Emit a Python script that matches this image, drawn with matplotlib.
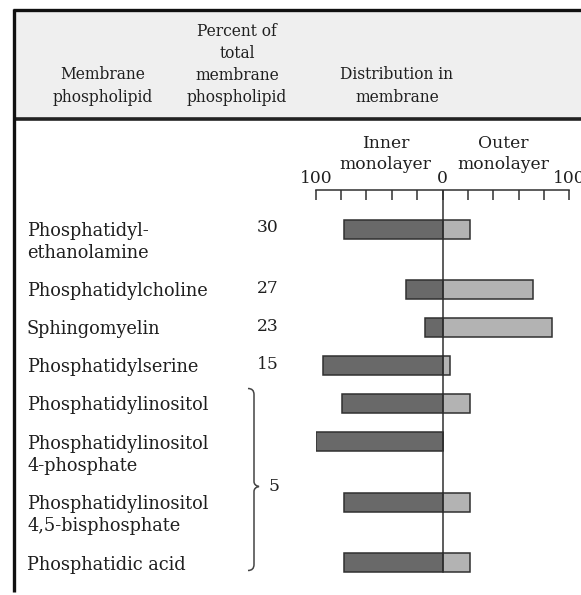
import numpy as np
import matplotlib
matplotlib.use("Agg")
import matplotlib.pyplot as plt
from matplotlib.path import Path
from matplotlib.patches import PathPatch, Rectangle

plt.rcParams["font.family"] = ["DejaVu Serif"]

# data
phospholipids = [
    "Phosphatidyl-\nethanolamine",
    "Phosphatidylcholine",
    "Sphingomyelin",
    "Phosphatidylserine",
    "Phosphatidylinositol",
    "Phosphatidylinositol\n4-phosphate",
    "Phosphatidylinositol\n4,5-bisphosphate",
    "Phosphatidic acid",
]
percent_total = ["30", "27", "23", "15"]
grouped_percent = "5"  # shared by the last four rows
inner_pct = [78, 29, 14, 94, 79, 100, 78, 78]
outer_pct = [22, 71, 86, 6, 22, 0, 22, 22]
scale_ticks = [-100, -80, -60, -40, -20, 0, 20, 40, 60, 80, 100]
scale_labels = ["100", "", "", "", "", "0", "", "", "", "", "100"]

W, H = 581, 595
FS_HEAD = 11.2
FS_BODY = 12.8
FS_SCALE = 12.3
TXT = "#1f1f1f"
INNER_C = "#696969"
OUTER_C = "#b3b3b3"
EDGE_C = "#303030"

fig = plt.figure(figsize=(W / 100, H / 100), dpi=100)
fig.patch.set_facecolor("white")

# background axes in pixel units for frame and table text
bg = fig.add_axes([0, 0, 1, 1])
bg.set_xlim(0, W)
bg.set_ylim(H, 0)
bg.axis("off")

bg.add_patch(Rectangle((13, 9), W, 110, facecolor="#efefef", edgecolor="none"))
bg.plot([13, W], [9.5, 9.5], color="#111111", lw=2.4, solid_capstyle="butt")
bg.plot([13, W], [119, 119], color="#222222", lw=2.6, solid_capstyle="butt")
bg.plot([13.5, 13.5], [8.5, 592], color="#111111", lw=2.4, solid_capstyle="butt")

bg.text(103, 86, "Membrane\nphospholipid", ha="center", va="center",
        fontsize=FS_HEAD, color=TXT, linespacing=1.4)
bg.text(237, 64.5, "Percent of\ntotal\nmembrane\nphospholipid", ha="center",
        va="center", fontsize=FS_HEAD, color=TXT, linespacing=1.4)
bg.text(397, 86, "Distribution in\nmembrane", ha="center", va="center",
        fontsize=FS_HEAD, color=TXT, linespacing=1.4)

# row positions follow the number of label lines
row_gap, line_gap = 38, 22.5
rows = []
y = 229
for name in phospholipids:
    rows.append(y)
    y += row_gap + line_gap * (name.count("\n"))
rows = np.array(rows)

for name, ry in zip(phospholipids, rows):
    n = name.count("\n")
    bg.text(27, ry + 2 + n * line_gap / 2, name, ha="left", va="center",
            fontsize=FS_BODY, color=TXT, linespacing=1.26)

for val, ry in zip(percent_total, rows):
    bg.text(268, ry - 1, val, ha="center", va="center", fontsize=FS_SCALE, color=TXT)

# brace for the grouped rows
top, bot = rows[4] - 15, rows[-1] + 8
mid = (top + bot) / 2 + 7
xb = 254
verts = [(248, top), (254, top), (xb, top + 6),
         (xb, mid - 5), (xb, mid - 1), (259, mid),
         (xb, mid + 1), (xb, mid + 5),
         (xb, bot - 6), (254, bot), (248, bot)]
codes = [Path.MOVETO, Path.CURVE3, Path.CURVE3,
         Path.LINETO, Path.CURVE3, Path.CURVE3,
         Path.CURVE3, Path.CURVE3,
         Path.LINETO, Path.CURVE3, Path.CURVE3]
bg.add_patch(PathPatch(Path(verts, codes), facecolor="none", edgecolor="#444444", lw=1.1))
bg.text(274, mid, grouped_percent, ha="center", va="center", fontsize=FS_SCALE, color=TXT)

# distribution bars: x in percent
x0, x1 = 315.7, 569.3
ax = fig.add_axes([x0 / W, 0, (x1 - x0) / W, 1])
ax.set_facecolor("none")
ax.set_xlim(-100, 100)
ax.set_ylim(H, 0)

ax.barh(rows, [-v for v in inner_pct], height=19, left=0, color=INNER_C,
        edgecolor=EDGE_C, linewidth=1.1, zorder=2)
ax.barh(rows, outer_pct, height=19, left=0, color=OUTER_C,
        edgecolor=EDGE_C, linewidth=1.1, zorder=2)
ax.vlines(0, 190, rows[-1] + 9, color=EDGE_C, lw=1.1, zorder=3)

for side in ["left", "right", "bottom"]:
    ax.spines[side].set_visible(False)
ax.spines["top"].set_position(("data", 190))
ax.spines["top"].set_linewidth(1.1)
ax.spines["top"].set_color(EDGE_C)
ax.xaxis.set_ticks_position("top")
ax.set_xticks(scale_ticks)
ax.set_xticklabels(scale_labels)
ax.tick_params(axis="x", direction="in", length=7, width=1.1, color=EDGE_C,
               pad=2, labelsize=FS_SCALE, labelcolor=TXT)
ax.set_yticks([])

ax.text(-45, 154, "Inner\nmonolayer", ha="center", va="center", fontsize=FS_SCALE,
        color=TXT, linespacing=1.28)
ax.text(48, 154, "Outer\nmonolayer", ha="center", va="center", fontsize=FS_SCALE,
        color=TXT, linespacing=1.28)

fig.savefig("out.png", dpi=100)
